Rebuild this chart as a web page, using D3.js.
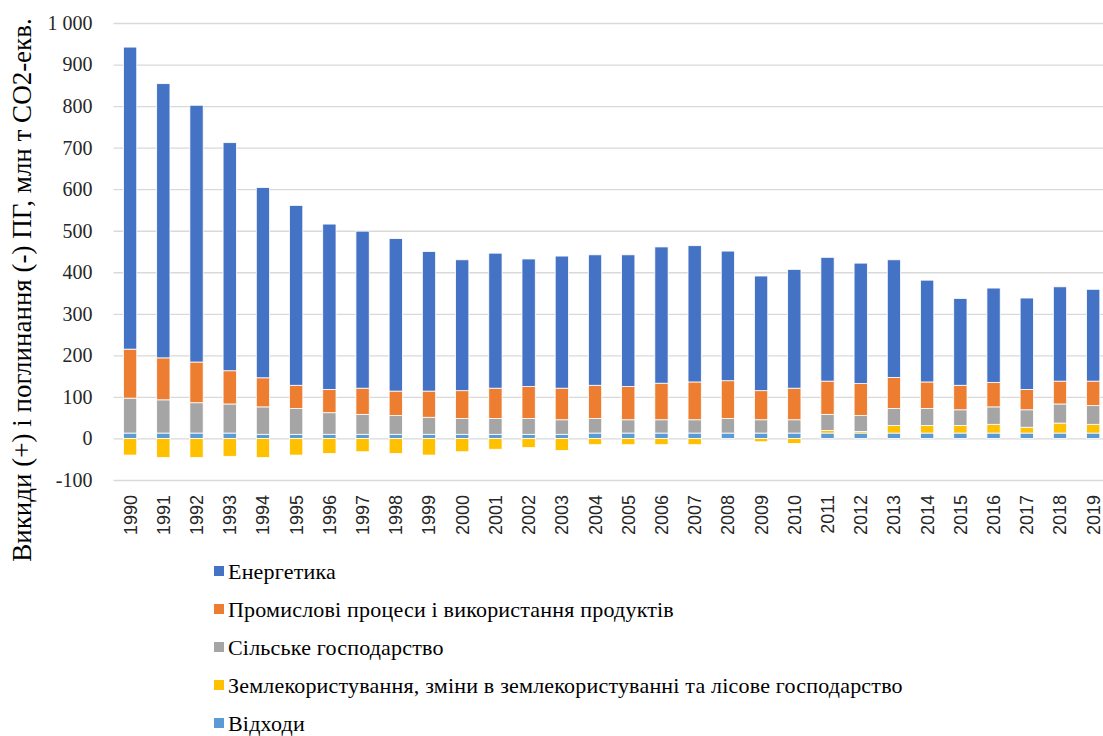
<!DOCTYPE html>
<html>
<head>
<meta charset="utf-8">
<script src="https://cdn.jsdelivr.net/npm/d3@7"></script>
<style>
    body { margin: 0; background: #fff; }
    #chart { width: 1103px; height: 736px; }
</style>
</head>
<body>
<div id="chart"></div>
<script>
///// DATOS //////
const years = [1990, 1991, 1992, 1993, 1994, 1995, 1996, 1997, 1998, 1999,
    2000, 2001, 2002, 2003, 2004, 2005, 2006, 2007, 2008, 2009,
    2010, 2011, 2012, 2013, 2014, 2015, 2016, 2017, 2018, 2019];

const energy = [727, 660, 618, 549, 458, 433, 398, 378, 367, 336,
    315, 325, 307, 318, 314, 317, 328, 328, 312, 276,
    286, 298, 290, 283, 245, 209, 227, 220, 227, 221];
const industry = [118, 101, 98, 80, 70, 56, 56, 63, 59, 63,
    67, 73, 77, 76, 80, 80, 88, 91, 91, 70,
    76, 80, 77, 75, 64, 59, 59, 49, 55, 59];
const agriculture = [84, 80, 73, 70, 66, 62, 52, 48, 45, 41,
    38, 38, 38, 35, 35, 32, 32, 32, 35, 32,
    32, 39, 38, 41, 41, 38, 42, 42, 46, 45];
const landUse = [-40, -46, -46, -43, -46, -40, -36, -32, -36, -40,
    -32, -26, -22, -29, -15, -15, -15, -15, 0, -8,
    -12, 6, 4, 18, 18, 18, 21, 14, 24, 21];
const waste = [13, 13, 13, 13, 10, 10, 10, 10, 10, 10,
    10, 10, 10, 10, 13, 13, 13, 13, 13, 13,
    13, 13, 13, 13, 13, 13, 13, 13, 13, 13];

const seriesNames = ['Енергетика', 'Промислові процеси і використання продуктів', 'Сільське господарство',
    'Землекористування, зміни в землекористуванні та лісове господарство', 'Відходи'];
const seriesColors = ['#4472C4', '#ED7D31', '#A5A5A5', '#FFC000', '#5B9BD5'];
const yTicks = [-100, 0, 100, 200, 300, 400, 500, 600, 700, 800, 900, 1000];
const yTitle = 'Викиди (+) і поглинання (-) ПГ, млн т CO2-екв.';

//Tabla para el stack
let keys = ['waste', 'landUse', 'agriculture', 'industry', 'energy'];
let innerData = years.map(function(y, i) {
    return { year: y, energy: energy[i], industry: industry[i], agriculture: agriculture[i], landUse: landUse[i], waste: waste[i] };
});
let colorOf = { energy: seriesColors[0], industry: seriesColors[1], agriculture: seriesColors[2], landUse: seriesColors[3], waste: seriesColors[4] };

let serif = '"Liberation Serif", "Times New Roman", serif';
let sans = '"Liberation Sans", Arial, sans-serif';

///// VISUALIZACIÓN //////
let margin = {top: 23, left: 113.5};
let width = 1103, height = 736;

let svg = d3.select('#chart')
    .append('svg')
    .attr('width', width)
    .attr('height', height);

let x_c = d3.scaleBand()
    .domain(years)
    .range([margin.left, margin.left + 30 * 33.21])
    .paddingInner(0.6)
    .paddingOuter(0.3);

let y_c = d3.scaleLinear()
    .domain([-100, 1000])
    .range([480, margin.top]);

let fmt = d3.formatLocale({decimal: ',', thousands: ' ', grouping: [3], currency: ['', ''], minus: '-'}).format(',');

//Eje Y + líneas de rejilla
svg.append('g')
    .attr('transform', 'translate(' + margin.left + ',0)')
    .call(d3.axisLeft(y_c).tickValues(yTicks).tickFormat(fmt).tickSize(-(width - margin.left)).tickPadding(21))
    .call(function(g) { g.select('.domain').remove(); })
    .call(function(g) { g.selectAll('.tick line').attr('stroke', '#d9d9d9').attr('stroke-width', 1.3); })
    .call(function(g) {
        g.selectAll('.tick text')
            .attr('fill', '#262626')
            .style('font-family', serif)
            .style('font-size', '20px');
    });

//Eje X
svg.append('g')
    .attr('transform', 'translate(0,480)')
    .call(d3.axisBottom(x_c).tickSize(0))
    .call(function(g) { g.select('.domain').remove(); })
    .call(function(g) {
        g.selectAll('.tick text')
            .attr('transform', 'rotate(-90)')
            .attr('text-anchor', 'end')
            .attr('x', -15)
            .attr('y', 0)
            .attr('dy', '0.36em')
            .attr('fill', '#262626')
            .style('font-family', sans)
            .style('font-size', '18px');
    });

//Barras apiladas (positivos arriba, negativos abajo)
let stacked = d3.stack().keys(keys).offset(d3.stackOffsetDiverging)(innerData);

svg.append('g')
    .selectAll('g')
    .data(stacked)
    .enter()
    .append('g')
    .attr('fill', function(d) { return colorOf[d.key]; })
    .selectAll('rect')
    .data(function(d) { return d; })
    .enter()
    .append('rect')
    .attr('x', function(d) { return x_c(d.data.year); })
    .attr('width', x_c.bandwidth())
    .attr('y', function(d) { return y_c(Math.max(d[0], d[1])); })
    .attr('height', function(d) { return Math.abs(y_c(d[0]) - y_c(d[1])); })
    .attr('stroke', '#fff')
    .attr('stroke-width', 0.8);

//Título eje Y
svg.append('text')
    .attr('transform', 'translate(31,290) rotate(-90)')
    .attr('text-anchor', 'middle')
    .attr('fill', '#000')
    .style('font-family', serif)
    .style('font-size', '27px')
    .text(yTitle);

//Leyenda
let legend = svg.append('g')
    .selectAll('g')
    .data(seriesNames)
    .enter()
    .append('g')
    .attr('transform', function(d, i) { return 'translate(214,' + (571 + i * 38) + ')'; });

legend.append('rect')
    .attr('x', 0)
    .attr('y', -5)
    .attr('width', 10)
    .attr('height', 10)
    .attr('fill', function(d, i) { return seriesColors[i]; });

legend.append('text')
    .attr('x', 14)
    .attr('y', 0)
    .attr('dy', '0.35em')
    .attr('fill', '#000')
    .style('font-family', serif)
    .style('font-size', '22px')
    .style('letter-spacing', '0.2px')
    .text(function(d) { return d; });
</script>
</body>
</html>
